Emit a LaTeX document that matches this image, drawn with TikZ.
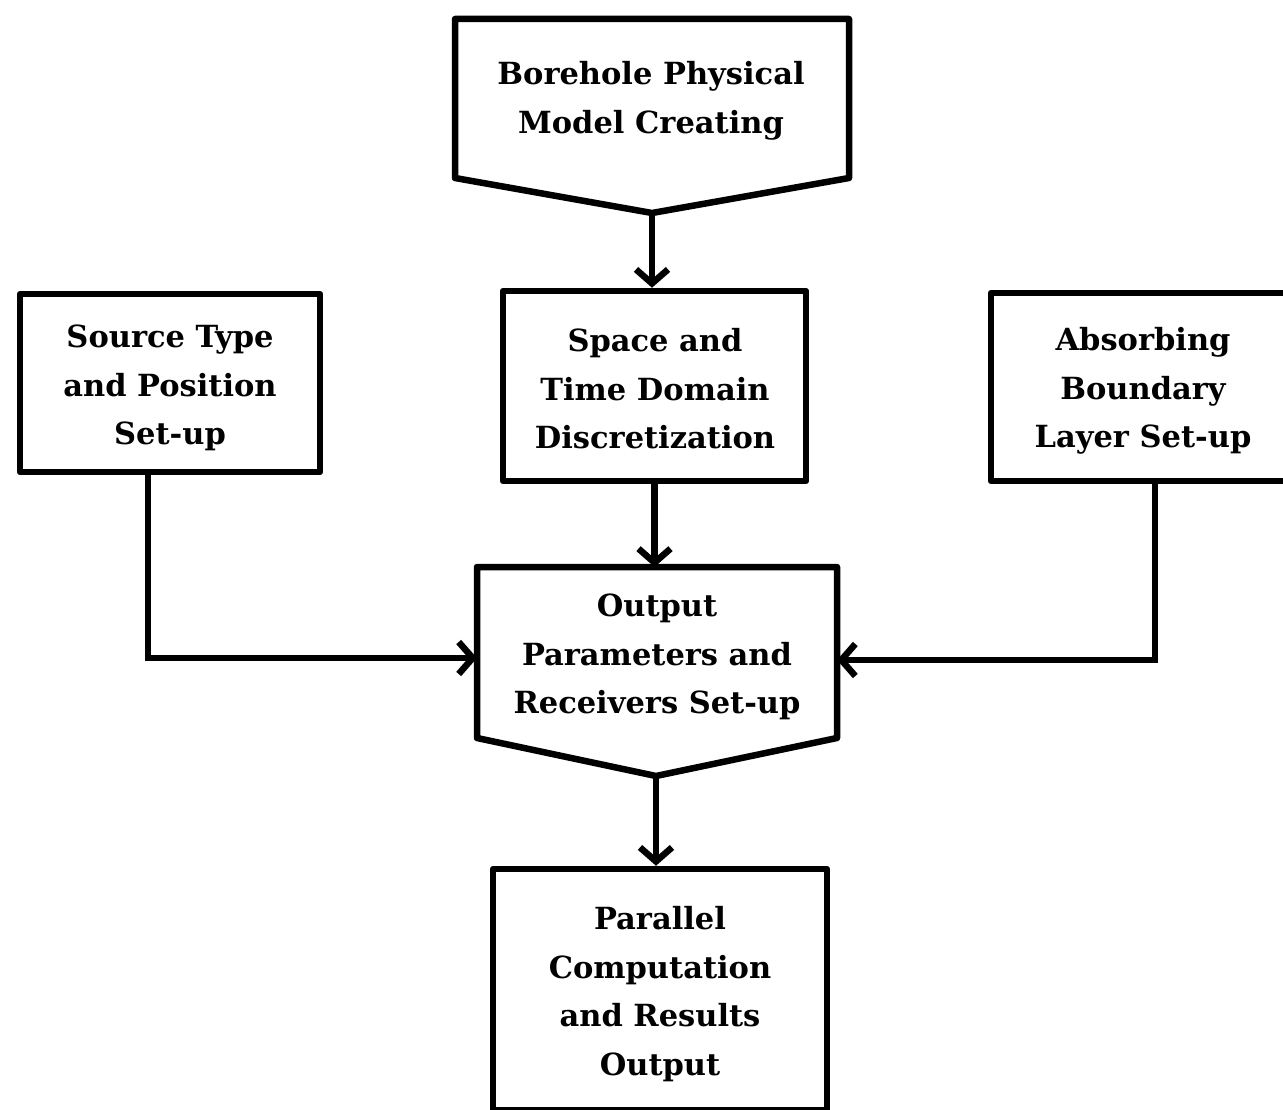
\documentclass[tikz,border=0pt]{standalone}
\usepackage{fontspec}
\setmainfont{DejaVu Serif}
\usetikzlibrary{arrows.meta}
\begin{document}
\begin{tikzpicture}[x=1pt,y=-1pt,
  lbl/.style={align=center,font=\fontsize{30.5}{48.5}\selectfont\bfseries,inner sep=0pt},
  boxr/.style={draw,line width=6.5pt,line join=round,inner sep=0pt},
  penta/.style={draw,line width=6.5pt,line join=round},
  conn/.style={line width=6.5pt,-{Straight Barb[length=14pt,width=32pt]}},
]
\useasboundingbox (0,0) rectangle (1283,1110);
\clip (0,0) rectangle (1283,1110);

% top pentagon
\draw[penta] (455,19) -- (849,19) -- (849,178) -- (652,213) -- (455,178) -- cycle;
\coordinate (ttip) at (652,213);
\node[lbl] (top) at (651,101) {Borehole Physical\\Model Creating};

% rectangles
\node[boxr,minimum width=300pt,minimum height=178pt] (source) at (170,383) {};
\node[lbl] (sourcet) at (170,388) {Source Type\\and Position\\Set-up};
\node[boxr,minimum width=303pt,minimum height=190pt] (space) at (654.5,386) {};
\node[lbl] (spacet) at (655,389) {Space and\\Time Domain\\Discretization};
\node[boxr,minimum width=304pt,minimum height=188pt] (absorb) at (1143,387) {};
\node[lbl] (absorbt) at (1143,391) {Absorbing\\Boundary\\Layer Set-up};

% output pentagon
\draw[penta] (477,567) -- (837,567) -- (837,738) -- (656,776) -- (477,738) -- cycle;
\coordinate (otop) at (656,567);
\coordinate (oleft) at (477,658);
\coordinate (oright) at (837,660);
\coordinate (otip) at (656,776);
\node[lbl] (output) at (657,657) {Output\\Parameters and\\Receivers Set-up};

% bottom rectangle
\node[boxr,minimum width=334pt,minimum height=241pt] (par) at (660,989.5) {};
\node[lbl] (part) at (660,994) {Parallel\\Computation\\and Results\\Output};

% connectors
\draw[conn] (ttip) -- (ttip |- space.north);
\draw[conn] (space.south) -- (space.south |- otop);
\draw[conn] ([xshift=-22pt]source.south) |- (oleft);
\draw[conn] ([xshift=12pt]absorb.south) |- (oright);
\draw[conn] (otip) -- (otip |- par.north);
\end{tikzpicture}
\end{document}
